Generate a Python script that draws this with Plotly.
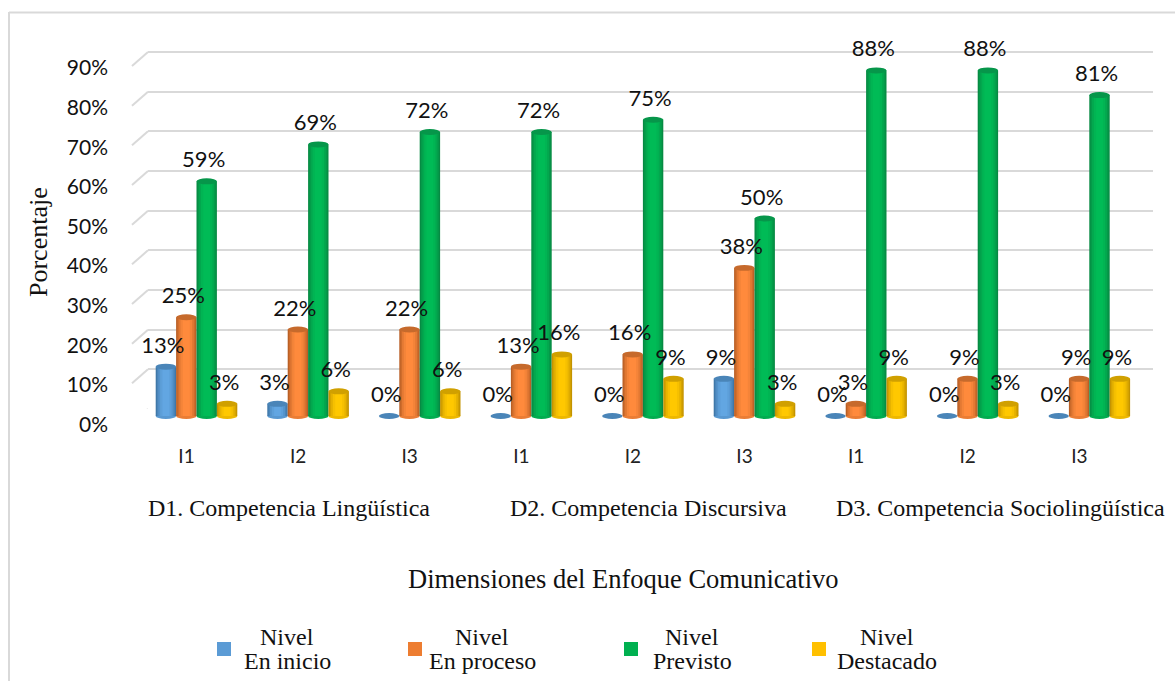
import plotly.graph_objects as go

# ---------- data ----------
indicators = ["I1", "I2", "I3", "I1", "I2", "I3", "I1", "I2", "I3"]
dimensions = ["D1. Competencia Lingüística", "D2. Competencia Discursiva", "D3. Competencia Sociolingüística"]
en_inicio = [12.5, 3.1, 0, 0, 0, 9.4, 0, 0, 0]
en_proceso = [25, 21.9, 21.9, 12.5, 15.6, 37.5, 3.1, 9.4, 9.4]
previsto = [59.4, 68.75, 71.9, 71.9, 75, 50, 87.5, 87.5, 81.25]
destacado = [3.1, 6.25, 6.25, 15.6, 9.4, 3.1, 9.4, 3.1, 9.4]
level_line1 = ["Nivel", "Nivel", "Nivel", "Nivel"]
level_line2 = ["En inicio", "En proceso", "Previsto", "Destacado"]
percent_ticks = [0, 10, 20, 30, 40, 50, 60, 70, 80, 90]

# ---------- styles ----------
W, H = 1175, 681
SERIF = "Liberation Serif"
SANS = "Lato"
GRID = "#d9d9d9"
series = [en_inicio, en_proceso, previsto, destacado]
legend_color = ["#5B9BD5", "#ED7D31", "#00B050", "#FFC000"]
edge_color = ["#3f77a8", "#b95f25", "#078a43", "#c39300"]
center_color = ["#62a6e2", "#ff8a3c", "#00bb56", "#ffc800"]
top_color = ["#4a85b8", "#c66a2c", "#06964a", "#d0a000"]


def px(x):
    return x / W


def py(y):
    return 1 - y / H


def mix(a, b, t):
    ca = [int(a[i:i + 2], 16) for i in (1, 3, 5)]
    cb = [int(b[i:i + 2], 16) for i in (1, 3, 5)]
    return "#" + "".join(f"{round(p + (q - p) * t):02x}" for p, q in zip(ca, cb))


GROUP0, GROUP_STEP = 196.5, 111.6
X_LEFT, X_RIGHT = 148, 1153
BAR_W = 20.4 / GROUP_STEP
OFFS = [-30.6 / GROUP_STEP, -10.2 / GROUP_STEP, 10.2 / GROUP_STEP, 30.6 / GROUP_STEP]
BACK0, BACK_K = 409, 3.967
BAR0, BAR_K = 416, 3.95
BAR_FLOOR = -5
FRONT0, FRONT_K = 424.5, 3.96
idx = list(range(len(indicators)))

fig = go.Figure()
fig.add_trace(go.Scatter(x=[None], y=[None], xaxis="x", yaxis="y3", showlegend=False))

# cylinders: nested bars give the round shading
layers = [(1.0, 0.0), (0.88, 0.3), (0.74, 0.6), (0.56, 0.85), (0.34, 1.0)]
for s, vals in enumerate(series):
    for frac, t in layers:
        w = BAR_W * frac
        fig.add_trace(go.Bar(
            x=idx, y=vals, yaxis="y2", xaxis="x", width=w, offset=OFFS[s] - w / 2,
            marker=dict(color=mix(edge_color[s], center_color[s], t), line=dict(width=0)),
            showlegend=False, hoverinfo="skip"))

shapes = []
EH = 3 / BAR_K
for s, vals in enumerate(series):
    for i, v in enumerate(vals):
        c = OFFS[s] + i
        if v > 0:
            shapes.append(dict(type="circle", xref="x", yref="y2", layer="below",
                               x0=c - BAR_W / 2, x1=c + BAR_W / 2, y0=-EH, y1=EH,
                               fillcolor=mix(edge_color[s], center_color[s], 0.7), line=dict(width=0)))
        shapes.append(dict(type="circle", xref="x", yref="y2", layer="above",
                           x0=c - BAR_W / 2, x1=c + BAR_W / 2, y0=v - EH, y1=v + EH,
                           fillcolor=top_color[s], line=dict(width=0)))

# data labels
for s, vals in enumerate(series):
    fig.add_trace(go.Scatter(
        x=[i + OFFS[s] - 3 / GROUP_STEP for i in idx],
        y=[v + 19.5 / BAR_K for v in vals],
        text=[f"{int(v + 0.5)}%" for v in vals],
        mode="text", textposition="middle center", yaxis="y2", xaxis="x", cliponaxis=False,
        textfont=dict(family=SANS, size=22, color="#111111"),
        showlegend=False, hoverinfo="skip"))

# floor-to-wall diagonals of the gridlines
for t in percent_ticks:
    shapes.append(dict(type="line", xref="paper", yref="y", layer="below",
                       x0=px(132), x1=px(X_LEFT), y0=t - 14 / BACK_K, y1=t,
                       line=dict(color=GRID, width=2)))
# chart frame
shapes.append(dict(type="line", xref="paper", yref="paper", x0=px(9), x1=px(9), y0=0, y1=py(12),
                   line=dict(color=GRID, width=2)))
shapes.append(dict(type="line", xref="paper", yref="paper", x0=px(9), x1=1, y0=py(12.5), y1=py(12.5),
                   line=dict(color=GRID, width=2)))

annotations = []


def note(text, x, y, size, angle=0, family=SERIF):
    annotations.append(dict(text=text, x=px(x), y=py(y), xref="paper", yref="paper", showarrow=False,
                            xanchor="center", yanchor="middle", textangle=angle,
                            font=dict(family=family, size=size, color="#111111")))


note("Porcentaje", 38, 242, 26, angle=-90)
note("Dimensiones del Enfoque Comunicativo", 624, 579, 26.5)
for text, cx in zip(dimensions, [289, 648, 1000]):
    note(text, cx, 508, 24)

legend_sq = [217, 408, 624, 812]
legend_cx = [287, 482, 692, 887]
for s in range(4):
    shapes.append(dict(type="rect", xref="paper", yref="paper",
                       x0=px(legend_sq[s]), x1=px(legend_sq[s] + 14), y0=py(656), y1=py(642),
                       fillcolor=legend_color[s], line=dict(width=0)))
    note(level_line1[s], legend_cx[s], 637, 24)
    note(level_line2[s], legend_cx[s], 661, 24)

fig.update_layout(
    width=W, height=H, margin=dict(l=0, r=0, t=0, b=0), autosize=False,
    paper_bgcolor="white", plot_bgcolor="rgba(0,0,0,0)",
    barmode="overlay", showlegend=False, shapes=shapes, annotations=annotations,
    xaxis=dict(domain=[px(X_LEFT), px(X_RIGHT)], anchor="y", automargin=False,
               range=[(X_LEFT - GROUP0) / GROUP_STEP, (X_RIGHT - GROUP0) / GROUP_STEP],
               tickmode="array", tickvals=[i - 10 / GROUP_STEP for i in idx], ticktext=indicators,
               showgrid=False, zeroline=False, showline=False, ticks="",
               ticklabelstandoff=34, tickfont=dict(family=SANS, size=19, color="#222222")),
    yaxis=dict(domain=[py(BACK0), py(BACK0 - 100 * BACK_K)], range=[0, 100], anchor="x", automargin=False,
               tickmode="array", tickvals=percent_ticks, showticklabels=False,
               showgrid=True, gridcolor=GRID, gridwidth=2, zeroline=False, showline=False, ticks=""),
    yaxis2=dict(domain=[py(BAR0 - BAR_FLOOR * BAR_K), py(BAR0 - 100 * BAR_K)], range=[BAR_FLOOR, 100], anchor="x",
                automargin=False, showticklabels=False, showgrid=False, zeroline=False, showline=False, ticks=""),
    yaxis3=dict(domain=[py(FRONT0), py(FRONT0 - 100 * FRONT_K)], range=[0, 100], anchor="x", automargin=False,
                tickmode="array", tickvals=percent_ticks, ticktext=[f"{t}%" for t in percent_ticks],
                ticklabelstandoff=39, showgrid=False, zeroline=False, showline=False, ticks="",
                tickfont=dict(family=SANS, size=21, color="#111111")),
)

fig.write_html("out.html", config={"displayModeBar": False},
               post_script="document.body.style.margin='0';")
